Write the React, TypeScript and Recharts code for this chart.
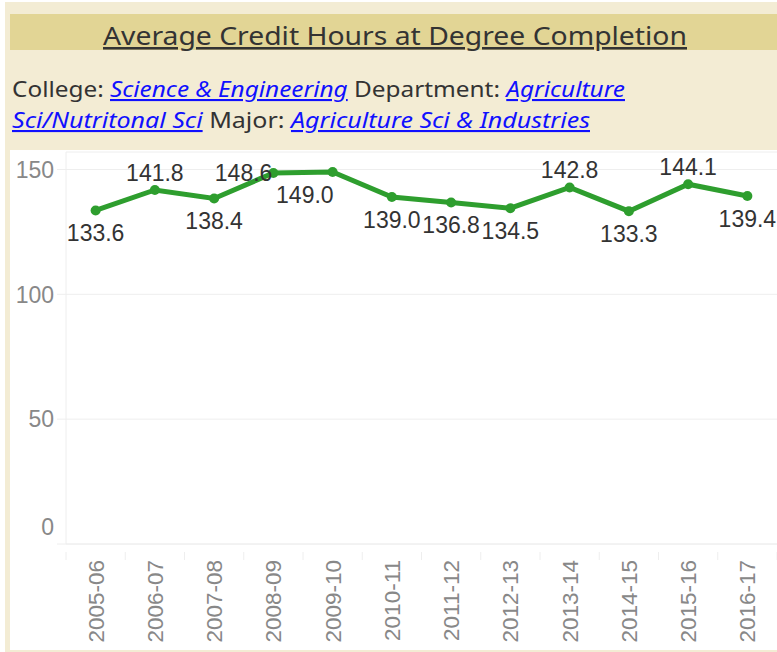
import React from "react";
import { LineChart, Line, XAxis, YAxis, CartesianGrid, LabelList } from "recharts";

const years = ["2005-06", "2006-07", "2007-08", "2008-09", "2009-10", "2010-11", "2011-12", "2012-13", "2013-14", "2014-15", "2015-16", "2016-17"];
const avgHours = [133.6, 141.8, 138.4, 148.6, 149.0, 139.0, 136.8, 134.5, 142.8, 133.3, 144.1, 139.4];
const yTicks = [0, 50, 100, 150];

const data = years.map((y, i) => ({ year: y, hours: avgHours[i] }));

const CHART_W = 767;
const CHART_H = 500;
const Y_AXIS_W = 56;
const PLOT_W = CHART_W - Y_AXIS_W;
const BAND = PLOT_W / years.length;
const GREEN = "#2e9e2e";
const GRID = "#eeeeee";
const FONT = "'Liberation Sans', Arial, sans-serif";
const HEAD_FONT = "'Noto Sans', 'Open Sans', sans-serif";
const LINK = "#1010ff";

// label placement: above, below, left (same height), belowLeft
const placement = ["below", "above", "below", "left", "belowLeft", "below", "below", "below", "above", "below", "above", "below"];

const PointLabel = (props: any) => {
  const { x, y, value, index } = props;
  const p = placement[index];
  let tx = x;
  let ty = y;
  let anchor: "middle" | "end" = "middle";
  if (p === "above") ty = y - 9;
  else if (p === "below") ty = y + 31;
  else if (p === "left") { tx = x - 1; ty = y + 8; anchor = "end"; }
  else if (p === "belowLeft") { tx = x + 1; ty = y + 31; anchor = "end"; }
  return (
    <text x={tx} y={ty} textAnchor={anchor} fontFamily={FONT} fontSize={23} fill="#333">
      {Number(value).toFixed(1)}
    </text>
  );
};

const XTick = (props: any) => {
  const { x, y, payload, index } = props;
  return (
    <g>
      <line x1={x - BAND / 2} y1={y} x2={x - BAND / 2} y2={y + 8} stroke={GRID} />
      {index === years.length - 1 && (
        <line x1={x + BAND / 2} y1={y} x2={x + BAND / 2} y2={y + 8} stroke={GRID} />
      )}
      <text
        transform={`translate(${x},${y + 8}) rotate(-90)`}
        textAnchor="end"
        dy="0.36em"
        fontFamily={FONT}
        fontSize={22.5}
        fill="#888"
      >
        {payload.value}
      </text>
    </g>
  );
};

const YTick = (props: any) => {
  const { x, y, payload } = props;
  const shift = payload.value === 0 ? -17 : 0;
  return (
    <text x={x} y={y + shift} dy="0.36em" textAnchor="end" fontFamily={FONT} fontSize={23} fill="#888">
      {payload.value}
    </text>
  );
};

export default function App() {
  return (
    <div style={{ position: "absolute", left: 0, top: 0, width: 777, height: 652, background: "#ffffff", overflow: "hidden" }}>
      <div style={{ position: "absolute", left: 5, top: 2, width: 772, height: 650, background: "#f3ecd4" }} />
      <div style={{ position: "absolute", left: 10, top: 14, width: 767, height: 36, background: "#e2d595" }} />
      <svg style={{ position: "absolute", left: 0, top: 0 }} width={777} height={150}>
        <text
          x={103}
          y={45}
          textLength={584}
          lengthAdjust="spacingAndGlyphs"
          fontFamily={HEAD_FONT}
          fontSize={25.5}
          fill="#333"
          style={{ textDecoration: "underline" }}
        >
          Average Credit Hours at Degree Completion
        </text>
        <text x={12} y={97} textLength={613} lengthAdjust="spacingAndGlyphs" fontFamily={HEAD_FONT} fontSize={21} fill="#333">
          <tspan>College: </tspan>
          <tspan fill={LINK} fontStyle="italic" style={{ textDecoration: "underline" }}>Science &amp; Engineering</tspan>
          <tspan> Department: </tspan>
          <tspan fill={LINK} fontStyle="italic" style={{ textDecoration: "underline" }}>Agriculture</tspan>
        </text>
        <text x={12} y={128} textLength={578} lengthAdjust="spacingAndGlyphs" fontFamily={HEAD_FONT} fontSize={21} fill="#333">
          <tspan fill={LINK} fontStyle="italic" style={{ textDecoration: "underline" }}>Sci/Nutritonal Sci</tspan>
          <tspan> Major: </tspan>
          <tspan fill={LINK} fontStyle="italic" style={{ textDecoration: "underline" }}>Agriculture Sci &amp; Industries</tspan>
        </text>
      </svg>
      <div style={{ position: "absolute", left: 10, top: 150, width: CHART_W, height: CHART_H, background: "#ffffff" }}>
        <LineChart width={CHART_W} height={CHART_H} data={data} margin={{ top: 2, right: 0, left: 0, bottom: 0 }}>
          <CartesianGrid vertical={false} stroke={GRID} />
          <XAxis
            dataKey="year"
            interval={0}
            height={106}
            padding={{ left: BAND / 2, right: BAND / 2 }}
            tickLine={false}
            axisLine={{ stroke: GRID }}
            tick={<XTick />}
          />
          <YAxis
            width={Y_AXIS_W}
            domain={[0, 157]}
            ticks={yTicks}
            tickSize={9}
            tickMargin={3}
            tickLine={{ stroke: GRID }}
            axisLine={{ stroke: GRID }}
            tick={<YTick />}
          />
          <Line
            type="linear"
            dataKey="hours"
            stroke={GREEN}
            strokeWidth={5}
            dot={{ r: 5, fill: GREEN, stroke: "none" }}
            activeDot={false}
            isAnimationActive={false}
          >
            <LabelList dataKey="hours" content={<PointLabel />} />
          </Line>
        </LineChart>
      </div>
    </div>
  );
}
